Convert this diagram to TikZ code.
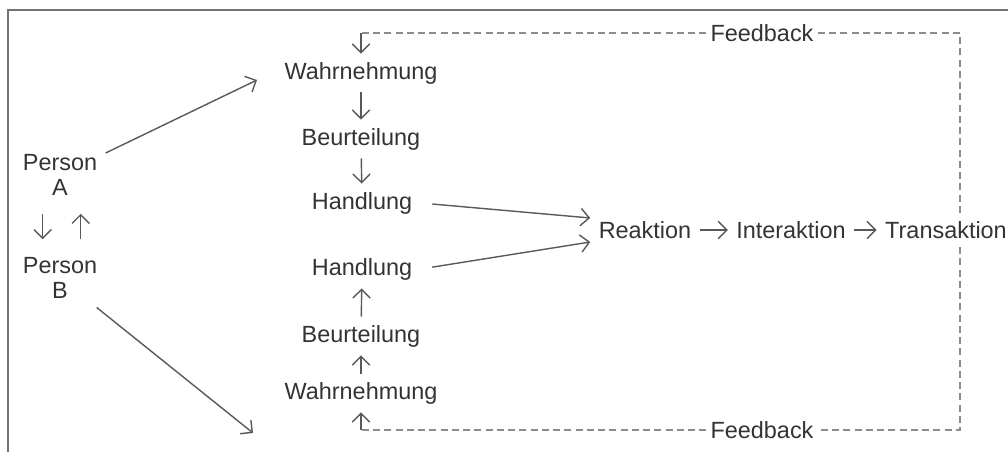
\documentclass[tikz,border=0pt]{standalone}
\usepackage{fontspec}
\setmainfont{Liberation Sans}
\usetikzlibrary{arrows.meta}

\begin{document}
\begin{tikzpicture}[x=0.015cm,y=-0.015cm,->,>={Straight Barb[length=1.3mm,width=2.6mm]},line width=0.6pt,draw=black!65,
	word/.style={text=black!80,font=\fontsize{10}{11}\selectfont,align=center},
	fb line/.style={-,dash pattern=on 3pt off 1.8pt,draw=black!45},
	fb word/.style={word,inner sep=1.5pt}]

	      \useasboundingbox (0,0) rectangle (1008,452);
	      \draw[-,draw=black!55,line width=1pt] (8,452) |- (1008,10);

	      \node[word] at (60,175) (pa) {Person\\A};
	      \node[word] at (60,278) (pb) {Person\\B};
	      \node[word] at (361,73) (w1) {Wahrnehmung};
	      \node[word] at (361,139) (b1) {Beurteilung};
	      \node[word] at (362,203) (h1) {Handlung};
	      \node[word] at (362,269) (h2) {Handlung};
	      \node[word] at (361,336) (b2) {Beurteilung};
	      \node[word] at (361,393) (w2) {Wahrnehmung};
	      \node[word] at (645,230) (re) {Reaktion};
	      \node[word] at (791,230) (ia) {Interaktion};
	      \node[word] at (946,230) (tr) {Transaktion};
	      \node[fb word] at (762,33) (fb1) {Feedback};
	      \node[fb word] at (762,430) (fb2) {Feedback};
	      \coordinate (wa) at (257,80);
	      \coordinate (wb) at (253,433);

	      \path
	      (w1) edge (b1)
	      (b1) edge (h1)
	      (w2) edge (b2)
	      (b2) edge (h2)
	      (re) edge (ia)
	      (ia) edge (tr)
	      (pa) edge (wa)
	      (pb) edge (wb)
	      ;

	      \draw[shorten <=4pt,shorten >=4pt] ([xshift=-0.26cm]pa.south) -- ([xshift=-0.26cm]pb.north);
	      \draw[shorten <=4pt,shorten >=4pt] ([xshift=0.31cm]pb.north) -- ([xshift=0.31cm]pa.south);
	      \draw[shorten <=5pt] (h1.east) -- ([yshift=0.18cm]re.west);
	      \draw[shorten <=5pt] (h2.east) -- ([yshift=-0.18cm]re.west);

	      \draw[fb line] ([xshift=0.21cm]tr.north) |- (fb1);
	      \draw[fb line] (fb1) -- (w1 |- fb1);
	      \draw (w1 |- fb1) -- (w1);
	      \draw[fb line] ([xshift=0.21cm]tr.south) |- (fb2);
	      \draw[fb line] (fb2) -- (w2 |- fb2);
	      \draw (w2 |- fb2) -- (w2);

	    \end{tikzpicture}
\end{document}
